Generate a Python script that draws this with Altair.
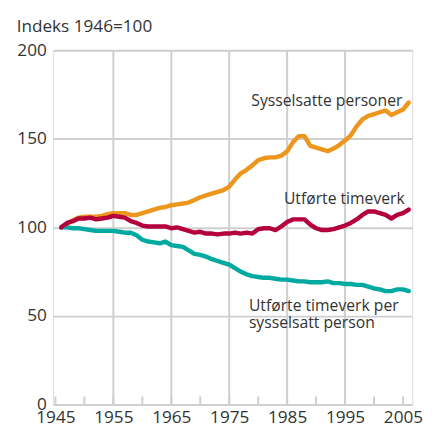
import altair as alt
import pandas as pd

years = list(range(1946, 2007))

sysselsatte = [
    100, 102, 104, 105.5, 106, 106, 106, 106.5, 107.5, 108,
    108, 108, 107, 107, 108, 109, 110, 111, 111.5, 112.5,
    113, 113.5, 114, 115.5, 117, 118, 119, 120, 121, 123,
    127, 130.5, 132.5, 135, 138, 139, 139.5, 139.5, 140.5, 143,
    148, 151.5, 151.5, 146, 145, 144, 143, 144.5, 146.5, 149,
    152, 157, 161, 163, 164, 165, 166, 163.5, 165, 166.5,
    170.5,
]

timeverk = [
    100, 102.5, 103.5, 105, 105, 105.5, 104.5, 105, 105.5, 106.5,
    106, 105.5, 103.5, 102.5, 101, 100.5, 100.5, 100.5, 100.5, 99.5,
    100, 99, 98, 97, 97.5, 96.5, 96.5, 96, 96.5, 96.5,
    97, 96.5, 97, 96.5, 99, 99.5, 99.5, 98.5, 100.5, 103,
    104.5, 104.5, 104.5, 101.5, 99.5, 98.5, 98.5, 99, 100, 101,
    102.5, 104.5, 107, 109, 109, 108, 107, 105, 107, 108,
    110,
]

per_person = [
    100, 100, 99.5, 99.5, 99, 98.5, 98, 98, 98, 98,
    97.5, 97, 97, 95.5, 93, 92, 91.5, 91, 92, 90,
    89.5, 89, 87, 85, 84.5, 83.5, 82, 81, 80, 79,
    77, 75, 73.5, 72.5, 72, 71.5, 71.5, 71, 70.5, 70.5,
    70, 69.5, 69.5, 69, 69, 69, 69.5, 68.5, 68.5, 68,
    68, 67.5, 67.5, 66.5, 65.5, 65, 64, 64, 65, 65,
    64,
]

x_label_years = [1945, 1955, 1965, 1975, 1985, 1995, 2005]
grid_years = [1955, 1965, 1975, 1985, 1995]
tick_years = [1945, 1950, 1955, 1960, 1965, 1970, 1975, 1980, 1985, 1990, 1995, 2000, 2005]
y_ticks = [0, 50, 100, 150, 200]

ORANGE = "#EC961E"
CRIMSON = "#B4003C"
TEAL = "#00AAA0"
GRID = "#CFCFCF"
TEXT = "#333333"
FONT = "Open Sans"

df = pd.DataFrame({
    "year": years,
    "sysselsatte": sysselsatte,
    "timeverk": timeverk,
    "per_person": per_person,
})

xscale = alt.Scale(domain=[1944.6, 2006.6], nice=False, zero=False)
yscale = alt.Scale(domain=[0, 200], nice=False)

x_axis = alt.Axis(values=x_label_years, format="d", grid=False, ticks=False, tickSize=0,
                  domain=False, labelFontSize=17.5, labelFont=FONT, labelColor=TEXT,
                  labelPadding=4, title=None)
y_axis = alt.Axis(values=y_ticks, grid=True, gridColor=GRID, gridWidth=2, ticks=False,
                  tickSize=0, domain=False, labelFontSize=17.5, labelFont=FONT,
                  labelColor=TEXT, labelPadding=7, labelBaseline="middle", title=None)

base = alt.Chart(df)

lines = []
for field, color in [("sysselsatte", ORANGE), ("per_person", TEAL), ("timeverk", CRIMSON)]:
    lines.append(
        base.mark_line(color=color, strokeWidth=4.5, strokeCap="round", strokeJoin="round").encode(
            x=alt.X("year:Q", scale=xscale, axis=x_axis),
            y=alt.Y(f"{field}:Q", scale=yscale, axis=y_axis),
        )
    )

grid_df = pd.DataFrame({"year": grid_years, "y0": [0] * len(grid_years), "y1": [200] * len(grid_years)})
vgrid = alt.Chart(grid_df).mark_rule(color=GRID, strokeWidth=2).encode(
    x=alt.X("year:Q", scale=xscale, axis=x_axis),
    y=alt.Y("y0:Q", scale=yscale, axis=y_axis),
    y2="y1:Q",
)

tick_df = pd.DataFrame({"year": tick_years, "y0": [0] * len(tick_years), "y1": [4.5] * len(tick_years)})
ticks = alt.Chart(tick_df).mark_rule(color=GRID, strokeWidth=2).encode(
    x=alt.X("year:Q", scale=xscale, axis=x_axis),
    y=alt.Y("y0:Q", scale=yscale, axis=y_axis),
    y2="y1:Q",
)

right_labels = pd.DataFrame({
    "label": ["Sysselsatte personer", "Utførte timeverk"],
    "year": [2004.9, 2005.3],
    "value": [168.8, 113.3],
})
left_labels = pd.DataFrame({
    "label": ["Utførte timeverk per\nsysselsatt person"],
    "year": [1978.4],
    "value": [52.6],
})
title_df = pd.DataFrame({"label": ["Indeks 1946=100"], "year": [1938.3], "value": [210.3]})

rtext = alt.Chart(right_labels).mark_text(align="right", baseline="alphabetic", font=FONT,
                                          fontSize=16, color=TEXT).encode(
    x=alt.X("year:Q", scale=xscale, axis=x_axis),
    y=alt.Y("value:Q", scale=yscale, axis=y_axis),
    text="label:N",
)
ltext = alt.Chart(left_labels).mark_text(align="left", baseline="alphabetic", font=FONT,
                                         fontSize=16, color=TEXT, lineBreak="\n",
                                         lineHeight=17.5).encode(
    x=alt.X("year:Q", scale=xscale, axis=x_axis),
    y=alt.Y("value:Q", scale=yscale, axis=y_axis),
    text="label:N",
)
ttext = alt.Chart(title_df).mark_text(align="left", baseline="alphabetic", font=FONT,
                                      fontSize=17.5, color=TEXT).encode(
    x=alt.X("year:Q", scale=xscale, axis=x_axis),
    y=alt.Y("value:Q", scale=yscale, axis=y_axis),
    text="label:N",
)

chart = alt.layer(vgrid, ticks, *lines, rtext, ltext, ttext).properties(
    width=366,
    height=361,
    padding={"left": 46, "top": 39, "right": 12, "bottom": 24},
    autosize=alt.AutoSizeParams(type="none"),
).configure_view(
    stroke=GRID, strokeWidth=2
).configure(background="white")

chart.save("out.html", embed_options={"renderer": "svg", "actions": False})
